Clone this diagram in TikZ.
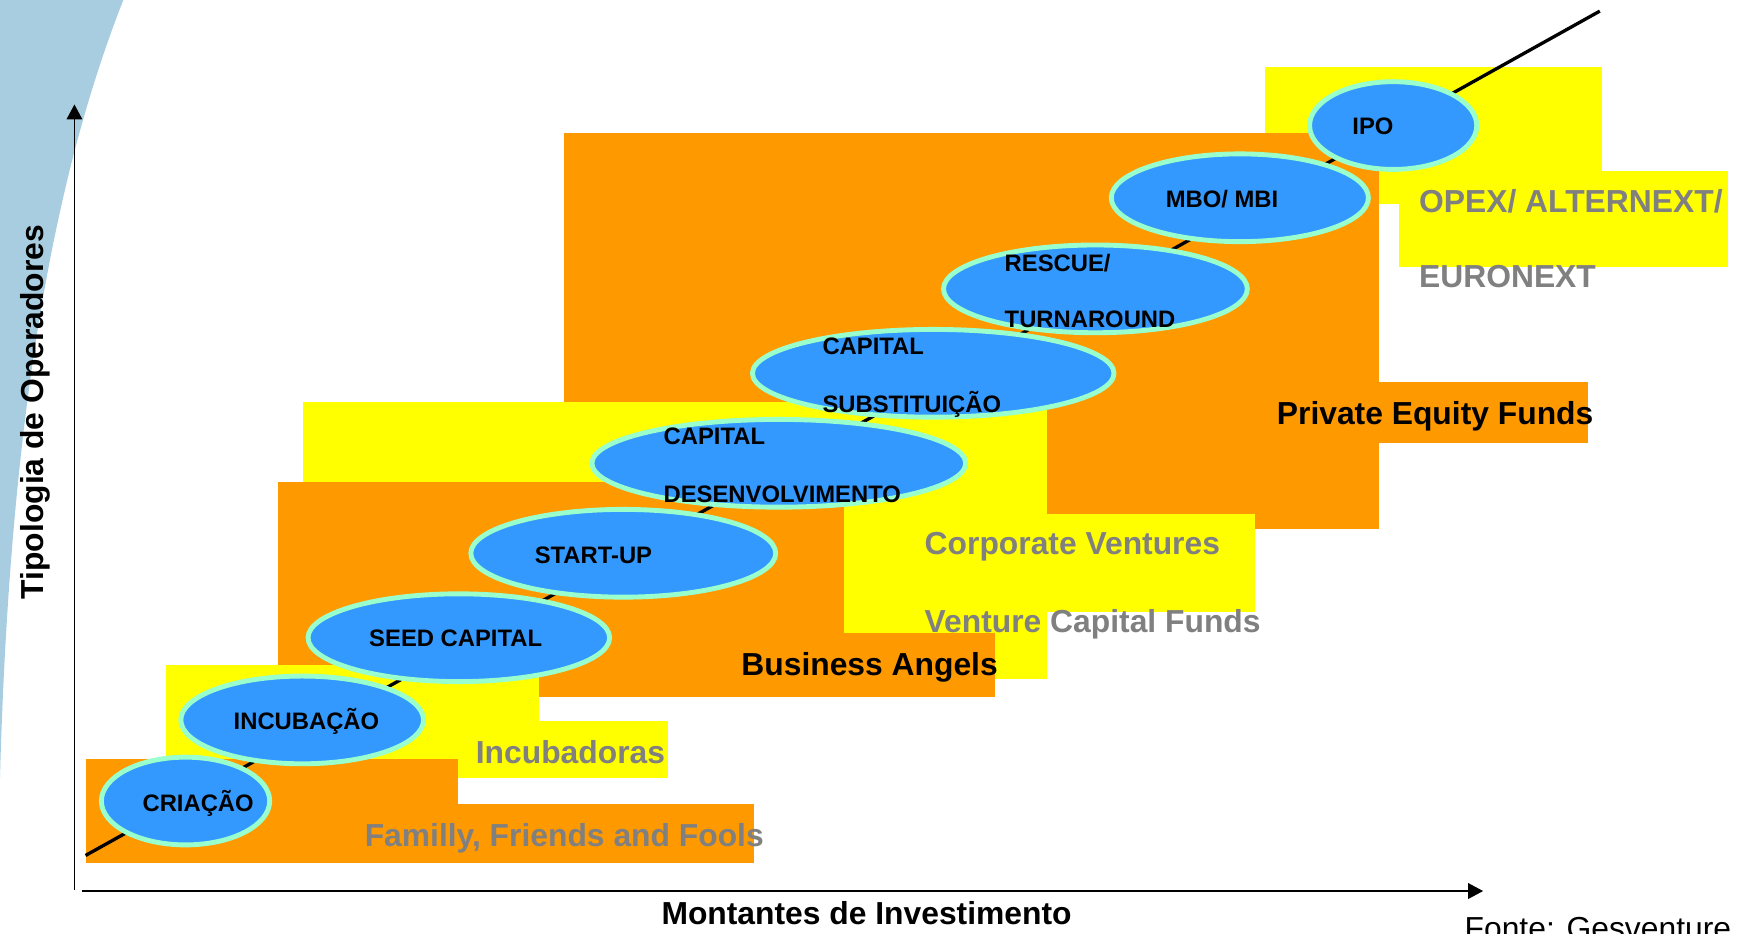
\documentclass[tikz,border=0pt]{standalone}
\usepackage{fontspec}
\setmainfont{Liberation Sans}
\usetikzlibrary{shapes.geometric,arrows.meta}
\definecolor{fundorange}{HTML}{FF9900}
\definecolor{fundyellow}{HTML}{FFFF00}
\definecolor{stageblue}{HTML}{3399FF}
\definecolor{stagering}{HTML}{99FFCC}
\definecolor{labelgray}{HTML}{808080}
\definecolor{sidebar}{RGB}{169,205,224}

\begin{document}
\begin{tikzpicture}[x=0.02cm,y=-0.02cm,
  stage/.style={ellipse, draw=stagering, line width=2.5pt, fill=stageblue, inner sep=0pt, minimum height=1.58cm},
  stagetext/.style={font=\fontsize{12.2}{14}\selectfont\bfseries, inner sep=0pt, anchor=base west},
  fund/.style={font=\fontsize{16.3}{19}\selectfont\bfseries, inner sep=0pt, anchor=base west},
  axis/.style={line width=0.9pt, -{Triangle[length=0.27cm,width=0.28cm]}}]

\useasboundingbox (0,0) rectangle (1568,840);

% blue band on the left
\fill[sidebar] (0,0) -- (111,0) .. controls (60,130) and (10,330) .. (0,700) -- cycle;

% axes
\coordinate (yfoot) at (67,801);
\coordinate (ytop) at (67,94);
\coordinate (xfoot) at (74,802);
\coordinate (xend) at (1335,802);
\draw[axis] (yfoot) -- (ytop);
\draw[axis] (xfoot) -- (xend);

% boxes, back to front
\fill[fundyellow] (1139,60) rectangle (1442,184);
\fill[fundyellow] (1259,154) rectangle (1555,240);
\fill[fundorange] (508,120) rectangle (1241,476);
\fill[fundorange] (1140,344) rectangle (1429,399);
\fill[fundyellow] (273,362) rectangle (942,611);
\fill[fundyellow] (760,463) rectangle (1130,551);
\fill[fundorange] (250,434) rectangle (760,627);
\fill[fundorange] (485,570) rectangle (896,627);
\fill[fundyellow] (149,599) rectangle (485,700);
\fill[fundyellow] (412,649) rectangle (601,700);
\fill[fundorange] (77,683) rectangle (412,777);
\fill[fundorange] (412,724) rectangle (679,777);

% operators
\node[fund, labelgray] (fff) at (328,762) {Familly, Friends and Fools};
\node[fund, labelgray] (incub) at (428,687) {Incubadoras};
\node[fund] (angels) at (667,608) {Business Angels};
\node[fund, labelgray] (corp) at (832,499) {Corporate Ventures};
\node[fund, labelgray] (vcf) at (832,569) {Venture Capital Funds};
\node[fund] (pef) at (1149,382) {Private Equity Funds};
\node[fund, labelgray] (opex) at (1277,191) {OPEX/ ALTERNEXT/};
\node[fund, labelgray] (euronext) at (1277,259) {EURONEXT};

% growth line
\coordinate (low) at (77,770);
\coordinate (high) at (1440,10);
\draw[line width=1.7pt] (low) -- (high);

% stages
\node[stage, minimum width=3.03cm] (criacao) at (167,721) {};
\node[stage, minimum width=4.37cm] (incubacao) at (272,648) {};
\node[stage, minimum width=5.43cm] (seed) at (413,574) {};
\node[stage, minimum width=5.49cm] (startup) at (561,498) {};
\node[stage, minimum width=6.73cm] (desenv) at (701,417) {};
\node[stage, minimum width=6.51cm] (subst) at (840,336) {};
\node[stage, minimum width=5.47cm] (rescue) at (986,260) {};
\node[stage, minimum width=4.63cm] (mbo) at (1116,178) {};
\node[stage, minimum width=3.01cm] (ipo) at (1254,113) {};

\node[stagetext] (criacao-t) at (128,730) {CRIAÇÃO};
\node[stagetext] (incubacao-t) at (210,657) {INCUBAÇÃO};
\node[stagetext] (seed-t) at (332,582) {SEED CAPITAL};
\node[stagetext] (startup-t) at (481,507) {START-UP};
\node[stagetext] (desenv-a) at (597,400) {CAPITAL};
\node[stagetext] (desenv-b) at (597,452) {DESENVOLVIMENTO};
\node[stagetext] (subst-a) at (740,319) {CAPITAL};
\node[stagetext] (subst-b) at (740,371) {SUBSTITUIÇÃO};
\node[stagetext] (rescue-a) at (904,244) {RESCUE/};
\node[stagetext] (rescue-b) at (904,295) {TURNAROUND};
\node[stagetext] (mbo-t) at (1049,187) {MBO/ MBI};
\node[stagetext] (ipo-t) at (1217,121) {IPO};

% axis titles and source
\node[fund, anchor=base, rotate=90] (ytitle) at (39,371) {Tipologia de Operadores};
\node[fund, anchor=base] (xtitle) at (780,832) {Montantes de Investimento};
\node[font=\fontsize{16.3}{19}\selectfont, inner sep=0pt, anchor=base west] (source) at (1318,846) {Fonte: Gesventure};
\end{tikzpicture}
\end{document}
